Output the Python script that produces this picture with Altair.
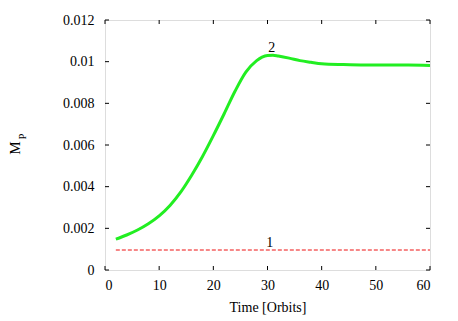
import altair as alt
import pandas as pd

# Series 2 (green): planet mass vs time
t2 = [2, 4, 6, 8, 10, 12, 14, 16, 18, 20, 22, 24, 26, 28, 29, 30, 31, 32, 34, 36, 38, 40, 44, 48, 52, 56, 60]
m2 = [0.00148, 0.00168, 0.00192, 0.00222, 0.00260, 0.00310, 0.00375, 0.00455, 0.00545, 0.00645,
      0.00750, 0.00858, 0.00950, 0.01005, 0.01022, 0.01030, 0.01031, 0.01027, 0.01017, 0.01005,
      0.00997, 0.00990, 0.00986, 0.00984, 0.00984, 0.00984, 0.00982]
# Series 1 (red dashed)
t1 = [2, 60]
m1 = [0.00096, 0.00096]

# curve labels
lab_text = ["1", "2"]
lab_t = [30.4, 30.8]
lab_m = [0.00130, 0.01065]

x_ticks = [0, 10, 20, 30, 40, 50, 60]
y_ticks = [0, 0.002, 0.004, 0.006, 0.008, 0.010, 0.012]

W, H = 325, 250
FONT = "Liberation Serif"

df2 = pd.DataFrame({"t": t2, "m": m2})
df1 = pd.DataFrame({"t": t1, "m": m1})
dfl = pd.DataFrame({"t": lab_t, "m": lab_m, "label": lab_text})
dfx = pd.DataFrame({"t": x_ticks})
dfy = pd.DataFrame({"m": y_ticks})

xs = alt.Scale(domain=[0, 60], nice=False)
ys = alt.Scale(domain=[0, 0.012], nice=False)

xaxis = alt.Axis(values=x_ticks, format="d", ticks=False, domain=False, grid=False,
                 labelFont=FONT, labelFontSize=14, labelColor="black", labelPadding=8,
                 title="Time [Orbits]", titleFont=FONT, titleFontSize=14,
                 titleFontWeight="normal", titleColor="black", titlePadding=8)
yaxis = alt.Axis(values=y_ticks, format="~g", ticks=False, domain=False, grid=False,
                 labelFont=FONT, labelFontSize=14, labelColor="black", labelPadding=11,
                 title=None)

base_green = alt.Chart(df2).mark_line(color="#22ee22", strokeWidth=3, interpolate="monotone").encode(
    x=alt.X("t:Q", scale=xs, axis=xaxis),
    y=alt.Y("m:Q", scale=ys, axis=yaxis),
)
red = alt.Chart(df1).mark_line(color="#ee1111", strokeWidth=1, strokeDash=[4, 2]).encode(
    x=alt.X("t:Q", scale=xs), y=alt.Y("m:Q", scale=ys)
)
labels = alt.Chart(dfl).mark_text(font=FONT, fontSize=14, color="black", baseline="middle").encode(
    x=alt.X("t:Q", scale=xs), y=alt.Y("m:Q", scale=ys), text="label:N"
)

tick_style = dict(color="black", strokeWidth=1)
xt_bottom = alt.Chart(dfx).mark_rule(**tick_style).encode(
    x=alt.X("t:Q", scale=xs), y=alt.value(H), y2=alt.value(H - 4))
xt_top = alt.Chart(dfx).mark_rule(**tick_style).encode(
    x=alt.X("t:Q", scale=xs), y=alt.value(0), y2=alt.value(4))
yt_left = alt.Chart(dfy).mark_rule(**tick_style).encode(
    y=alt.Y("m:Q", scale=ys), x=alt.value(0), x2=alt.value(4))
yt_right = alt.Chart(dfy).mark_rule(**tick_style).encode(
    y=alt.Y("m:Q", scale=ys), x=alt.value(W), x2=alt.value(W - 4))

ytitle_m = alt.Chart(pd.DataFrame({"s": ["M"]})).mark_text(
    font=FONT, fontSize=15, color="black", angle=270, align="center", baseline="middle"
).encode(text="s:N", x=alt.value(-90), y=alt.value(128))
ytitle_p = alt.Chart(pd.DataFrame({"s": ["P"]})).mark_text(
    font=FONT, fontSize=10, color="black", angle=270, align="center", baseline="middle"
).encode(text="s:N", x=alt.value(-82.5), y=alt.value(116.5))

chart = alt.layer(
    base_green, red, labels, xt_bottom, xt_top, yt_left, yt_right, ytitle_m, ytitle_p
).properties(
    width=W, height=H,
    autosize=alt.AutoSizeParams(type="none"),
    padding={"left": 97, "top": 12, "right": 20, "bottom": 55},
).configure_view(stroke="#222222", strokeWidth=1.2).configure_axis(
    labelFont=FONT, titleFont=FONT
).configure(background="white", font=FONT)

chart.save("out.html", embed_options={"renderer": "svg", "actions": False})
